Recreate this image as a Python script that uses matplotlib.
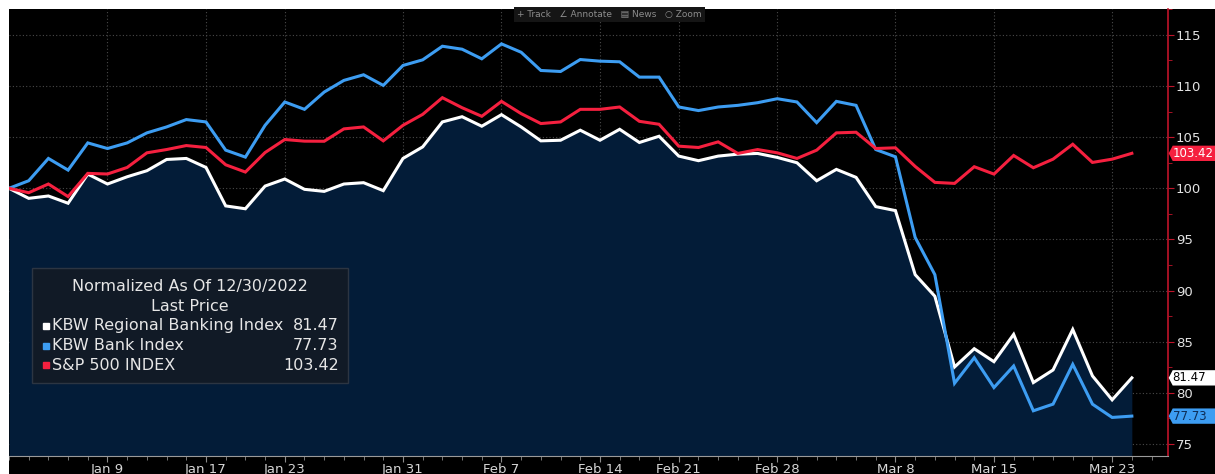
#!/usr/bin/env python3

import numpy as np
import pandas as pd
import matplotlib
matplotlib.use('Agg')
import matplotlib.pyplot as plt
from matplotlib.patches import Rectangle, Polygon
from matplotlib.transforms import blended_transform_factory

# trading days, normalized to 12/30/2022
holidays = ['2023-01-02', '2023-01-16', '2023-02-20']
dates = [d for d in pd.bdate_range('2022-12-30', '2023-03-24')
         if d.strftime('%Y-%m-%d') not in holidays]

kbw_regional = [100.0, 99.02, 99.25, 98.54, 101.39, 100.42, 101.13, 101.72, 102.82, 102.92,
                102.04, 98.28, 98.0, 100.22, 100.91, 99.9, 99.7, 100.42, 100.55, 99.77,
                102.92, 104.05, 106.49, 107.0, 106.07, 107.2, 106.0, 104.64, 104.7, 105.68,
                104.7, 105.77, 104.48, 105.09, 103.15, 102.7, 103.15, 103.34, 103.41, 103.02,
                102.5, 100.74, 101.85, 101.07, 98.21, 97.82, 91.56, 89.45, 82.53, 84.32,
                83.05, 85.72, 81.01, 82.24, 86.2, 81.66, 79.32, 81.47]
kbw_bank = [100.0, 100.74, 102.92, 101.78, 104.44, 103.89, 104.44, 105.42, 106.0, 106.72,
            106.49, 103.73, 103.05, 106.16, 108.44, 107.72, 109.41, 110.55, 111.1, 110.06,
            112.01, 112.56, 113.89, 113.6, 112.66, 114.12, 113.3, 111.52, 111.42, 112.59,
            112.43, 112.37, 110.87, 110.87, 107.95, 107.6, 107.95, 108.11, 108.37, 108.76,
            108.44, 106.42, 108.5, 108.11, 103.79, 103.08, 95.2, 91.56, 80.94, 83.44,
            80.52, 82.63, 78.25, 78.9, 82.79, 78.9, 77.6, 77.73]
spx = [100.0, 99.57, 100.42, 99.19, 101.46, 101.4, 102.04, 103.47, 103.79, 104.18,
       103.99, 102.3, 101.59, 103.5, 104.77, 104.61, 104.6, 105.81, 106.0, 104.64,
       106.16, 107.23, 108.86, 107.88, 107.04, 108.5, 107.3, 106.33, 106.49, 107.72,
       107.72, 107.95, 106.55, 106.26, 104.12, 103.99, 104.54, 103.41, 103.79, 103.47,
       102.92, 103.73, 105.42, 105.48, 103.89, 103.96, 102.14, 100.58, 100.48, 102.11,
       101.39, 103.21, 102.01, 102.85, 104.31, 102.53, 102.85, 103.42]

names = ['KBW Regional Banking Index', 'KBW Bank Index', 'S&P 500 INDEX']
colors = ['#ffffff', '#3d9df2', '#f5203f']
label_dates = ['2023-01-09', '2023-01-17', '2023-01-23', '2023-01-31', '2023-02-07',
               '2023-02-14', '2023-02-21', '2023-02-28', '2023-03-08', '2023-03-15',
               '2023-03-23']

plt.rcParams['font.family'] = ['DejaVu Sans']

W, H = 1215, 474
fig = plt.figure(figsize=(W / 100, H / 100), dpi=100, facecolor='white')
fig.patches.append(Rectangle((9 / W, 0), 1, (H - 9) / H, transform=fig.transFigure,
                             facecolor='black', edgecolor='none', zorder=-10))

ax = fig.add_axes([9 / W, 18 / H, 1158.7 / W, 447 / H])
ax.set_facecolor('black')

x = np.arange(len(dates))
ymin, ymax = 73.83, 117.53

ax.fill_between(x, kbw_regional, ymin, color='#031c38', zorder=1, lw=0)
series = [kbw_regional, kbw_bank, spx]
for s, c in zip(series, colors):
    ax.plot(x, s, color=c, lw=2.2, zorder=3, solid_joinstyle='miter')

ax.set_xlim(0, 58.82)
ax.set_ylim(ymin, ymax)

# x axis: a tick per trading day, labels on some
date_str = [d.strftime('%Y-%m-%d') for d in dates]
major_idx = [date_str.index(d) for d in label_dates]
ax.set_xticks(major_idx)
ax.set_xticklabels([f'{dates[i]:%b} {dates[i].day}' for i in major_idx])
ax.set_xticks([i for i in range(59) if i not in major_idx], minor=True)
ax.tick_params(axis='x', which='both', colors='#8a8a8a', labelcolor='#d6d6d6',
               labelsize=9.5, direction='out', pad=1)
ax.tick_params(axis='x', which='major', length=4)
ax.tick_params(axis='x', which='minor', length=3)

# y axis on the right
ax.yaxis.tick_right()
ax.set_yticks(np.arange(75, 116, 5))
ax.set_yticks(np.arange(77.5, 118, 5), minor=True)
ax.tick_params(axis='y', which='both', colors='#c0142a', labelcolor='#e2e2e2',
               labelsize=9.5, direction='out', pad=2)
ax.tick_params(axis='y', which='major', length=4)
ax.tick_params(axis='y', which='minor', length=3)

ax.grid(True, which='major', linestyle=(0, (1, 2)), color='#4a4a4a', lw=0.8)
ax.set_axisbelow(True)

for side in ['top', 'left']:
    ax.spines[side].set_visible(False)
ax.spines['bottom'].set_color('#9a9a9a')
ax.spines['right'].set_color('#c0142a')
ax.spines['right'].set_linewidth(1.2)

# last price tags on the right
trans = blended_transform_factory(ax.transAxes, ax.transData)
px = 1 / 1158.7
tag_text = ['#000000', '#0d2c55', '#ffffff']
for s, c, tc in zip(series, colors, tag_text):
    v = s[-1]
    hh = 0.75
    verts = [(1 + 1 * px, v), (1 + 5 * px, v + hh), (1.1, v + hh), (1.1, v - hh), (1 + 5 * px, v - hh)]
    ax.add_patch(Polygon(verts, closed=True, transform=trans, facecolor=c, edgecolor='none',
                         clip_on=False, zorder=5))
    ax.text(1 + 5 * px, v, f'{v:.2f}', transform=trans, ha='left', va='center',
            fontsize=8.5, color=tc, clip_on=False, zorder=6)

# legend box
ax.add_patch(Rectangle((0.0199, 0.1633), 0.2727, 0.2573, transform=ax.transAxes,
                       facecolor='#111a26', edgecolor='#2c3542', lw=1, zorder=6))
ax.text(0.1562, 0.3788, 'Normalized As Of 12/30/2022', transform=ax.transAxes,
        ha='center', va='center', fontsize=11.5, color='#e6e6e6', zorder=7)
ax.text(0.1562, 0.3345, 'Last Price', transform=ax.transAxes,
        ha='center', va='center', fontsize=11.5, color='#e6e6e6', zorder=7)
row_y = [0.2919, 0.2472, 0.2025]
for name, s, c, yy in zip(names, series, colors, row_y):
    ax.plot([0.0317], [yy], marker='s', ms=5, color=c, transform=ax.transAxes,
            clip_on=False, zorder=7)
    ax.text(0.0368, yy, name, transform=ax.transAxes, ha='left', va='center',
            fontsize=11.5, color='#e6e6e6', zorder=7)
    ax.text(0.2845, yy, f'{s[-1]:.2f}', transform=ax.transAxes, ha='right', va='center',
            fontsize=11.5, color='#e6e6e6', zorder=7)

# toolbar overlay
ax.text(0.518, 0.987, '+ Track   \u2220 Annotate   \u25a4 News   \u25cb Zoom',
        transform=ax.transAxes, ha='center', va='center', fontsize=6.5, color='#8c8c8c',
        bbox=dict(boxstyle='square,pad=0.35', facecolor='#151515', edgecolor='none'), zorder=8)

fig.savefig('out.png', dpi=100, facecolor=fig.get_facecolor())
plt.close(fig)
